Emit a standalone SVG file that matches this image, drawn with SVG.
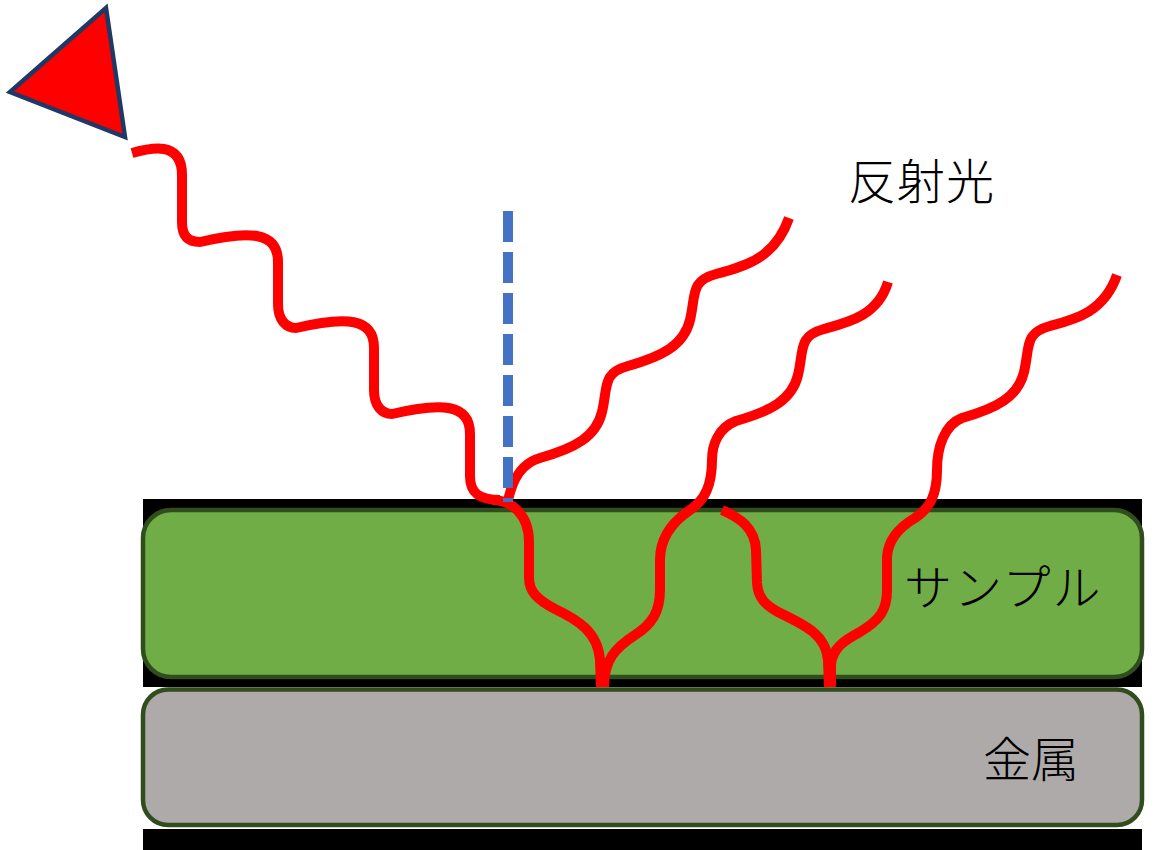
<svg xmlns="http://www.w3.org/2000/svg" width="1153" height="850" viewBox="0 0 1153 850">
<style>
.wave{fill:none;stroke:#FF0000;stroke-width:10;stroke-linecap:butt;stroke-linejoin:round}
.lbl{font-family:"Noto Sans CJK JP","Noto Sans",sans-serif;font-size:48px;font-weight:300;fill:#000}
.layer{stroke:#2F4D1D;stroke-width:4.5}
</style>
<rect width="1153" height="850" fill="#FFFFFF"/>
<g id="black-bars">
<rect x="143" y="499" width="999" height="188" fill="#000"/>
<rect x="143" y="829" width="999" height="21" fill="#000"/>
</g>
<g id="sample">
<rect class="layer" x="143" y="510" width="999" height="167" rx="28" fill="#70AD47"/>
<text class="lbl" x="904" y="605" letter-spacing="2">サンプル</text>
</g>
<g id="metal">
<rect class="layer" x="143" y="689.5" width="999" height="135.5" rx="25" fill="#AEAAAA"/>
<text class="lbl" x="983" y="777">金属</text>
</g>
<g id="source">
<polygon points="106,8 10,92 125,137" fill="#FF0000" stroke="#203864" stroke-width="4.5" stroke-linejoin="miter"/>
</g>
<g id="label-reflect">
<text class="lbl" x="848" y="199" letter-spacing="1">反射光</text>
</g>
<g id="connectors">
<path id="incident" class="wave" d="M132,153 C150,148 182,140 182,175 L182,222 C182,236 188,242 200,242 C250,230 278,232 278,262 L278,304 C278,320 286,328 296,328 C346,316 374,318 374,348 L374,390 C374,406 382,414 392,414 C442,402 470,404 470,434 L470,476 C470,492 478,500 500,500"/>
<path id="refract-1" class="wave" d="M492,500 C512,500 529,515 529,542 L529,578 C529,592 538,600 555,609 C578,620 598,632 600,660 L601,687"/>
<path id="reflect-1" class="wave" d="M508,500 C513,478 522,463 540,458 C575,448 596,437 602,412 C608,387 602,373 628,366 C663,356 684,345 690,320 C696,295 690,281 716,274 C746,266 775,258 789,218"/>
<path id="reflect-2" class="wave" d="M604,687 C604,660 615,648 635,635 C652,624 660,612 660,590 L660,560 C660,535 675,520 690,510 C705,500 712,485 712,460 C712,445 718,428 736,421 C771,411 792,400 798,375 C804,350 798,336 824,329 C850,322 878,315 888,282"/>
<path id="refract-2" class="wave" d="M722,510 C740,518 755,528 756,550 L757,583 C758,598 765,605 780,613 C805,625 826,635 828,660 L829,687"/>
<path id="reflect-3" class="wave" d="M831,687 L831,665 C832,648 845,640 860,632 C880,620 887,610 887,590 L887,557 C888,540 898,528 915,518 C930,508 937,495 937,470 C937,448 944,425 962,418 C997,408 1018,397 1024,372 C1030,347 1024,333 1050,326 C1076,319 1104,312 1117,275"/>
<line id="normal" x1="508" y1="211" x2="508" y2="502" stroke="#4472C4" stroke-width="10" stroke-dasharray="31 10"/>
</g>
</svg>
